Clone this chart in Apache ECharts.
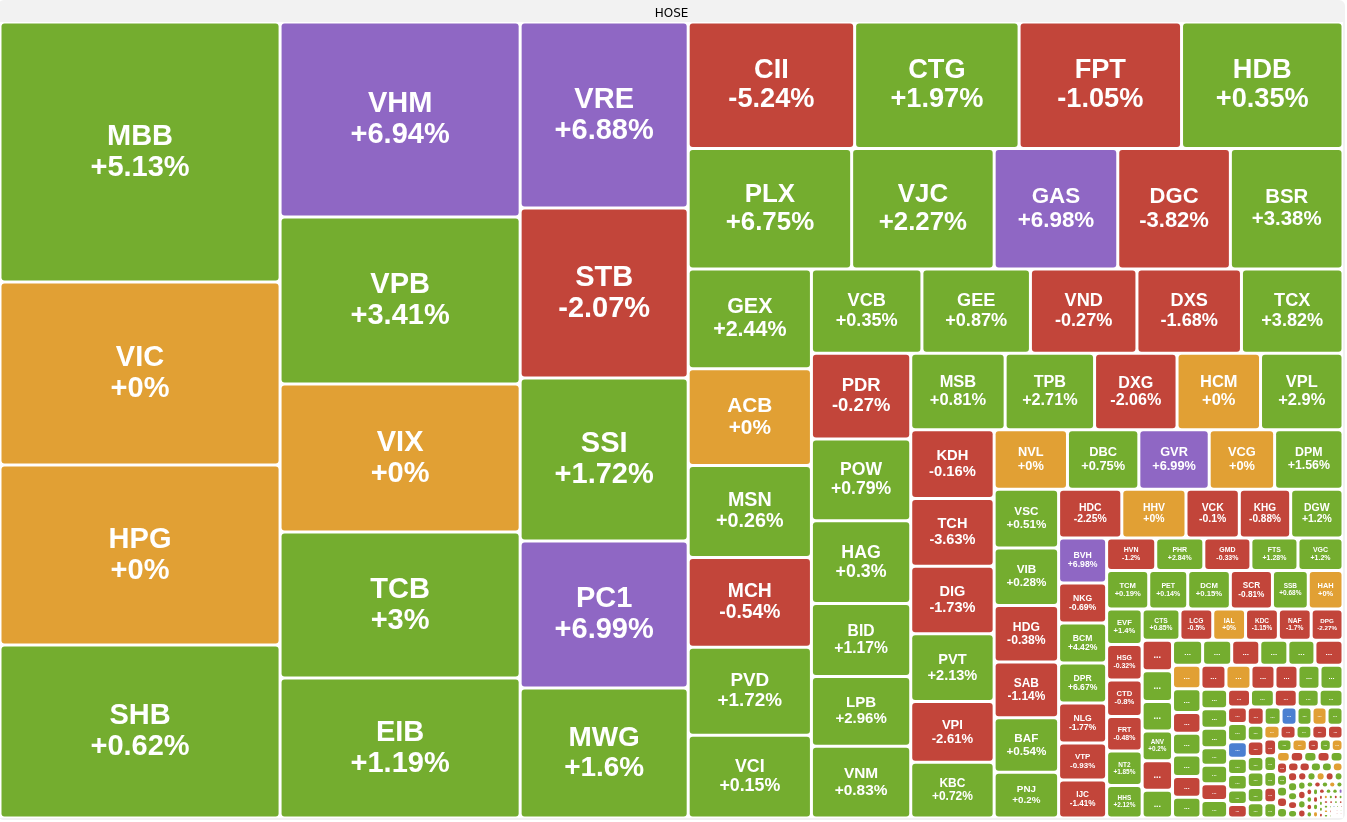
<!DOCTYPE html>
<html lang="en">
<head>
<meta charset="UTF-8" />
<title>HOSE</title>
<style>
  html, body { margin: 0; padding: 0; background: #fff; }
  #main { width: 1347px; height: 822px; }
</style>
</head>
<body>
<div id="main"></div>
<script src="https://cdn.jsdelivr.net/npm/echarts@6/dist/echarts.min.js"></script>
<script>
// readable tickers, in the order they sit on the map: name, size, % change
var names = ['MBB','VIC','HPG','SHB', 'VHM','VPB','VIX','TCB','EIB', 'VRE','STB','SSI','PC1','MWG',
  'CII','CTG','FPT','HDB', 'PLX','VJC','GAS','DGC','BSR', 'GEX','ACB','MSN','MCH','PVD','VCI',
  'VCB','GEE','VND','DXS','TCX', 'PDR','POW','HAG','BID','LPB','VNM', 'MSB','TPB','DXG','HCM','VPL',
  'KDH','TCH','DIG','PVT','VPI','KBC', 'NVL','DBC','GVR','VCG','DPM', 'VSC','VIB','HDG','SAB','BAF','PNJ',
  'HDC','HHV','VCK','KHG','DGW', 'BVH','NKG','BCM','DPR','NLG','VTP','IJC',
  'HVN','PHR','GMD','FTS','VGC', 'TCM','PET','DCM','SCR','SSB','HAH',
  'EVF','HSG','CTD','FRT','NT2','HHS', 'CTS','LCG','IAL','KDC','NAF','DPG'];
var caps = [72800,51240,50400,48440, 46800,40080,35520,35040,33600, 31248,28560,27384,24696,21840,
  21042,20790,20538,20412, 19680,17160,14880,13560,13560, 12300,11931,11316,11070,10824,10209,
  9324,9156,8988,8820,8568, 8514,8118,8217,7227,6930,7128, 7220,6840,6308,6384,6308,
  5727,5644,5644,5644,5063,4648, 4366,4248,4189,3894,4071, 3776,3712,3648,3584,3520,2944,
  3072,3120,2592,2496,2544, 2160,1920,1920,1920,1920,1776,1824,
  1594,1561,1528,1528,1462, 1626,1505,1645,1626,1383,1341,
  1260,1260,1295,1225,1225,1155, 1178,1023,1023,1023,1023,992];
var changes = [5.13,0,0,0.62, 6.94,3.41,0,3,1.19, 6.88,-2.07,1.72,6.99,1.6,
  -5.24,1.97,-1.05,0.35, 6.75,2.27,6.98,-3.82,3.38, 2.44,0,0.26,-0.54,1.72,0.15,
  0.35,0.87,-0.27,-1.68,3.82, -0.27,0.79,0.3,1.17,2.96,0.83, 0.81,2.71,-2.06,0,2.9,
  -0.16,-3.63,-1.73,2.13,-2.61,0.72, 0,0.75,6.99,0,1.56, 0.51,0.28,-0.38,-1.14,0.54,0.2,
  -2.25,0,-0.1,-0.88,1.2, 6.98,-0.69,4.42,6.67,-1.77,-0.93,-1.41,
  -1.2,2.84,-0.33,1.28,1.2, 0.19,0.14,0.15,-0.81,0.68,0,
  1.4,-0.32,-0.8,-0.48,1.85,2.12, 0.85,-0.5,0,-1.15,-1.7,-2.27];

// small tickers, mostly too small for a label
var tinyNames = ['AAA','PAN','BMP','ANV','HT1','REE',
  'DHC','VHC','SZC','CSV','TLG','KSB',
  'SCS','PTB','ELC','TDM','HAX','DHA','CMG',
  'FCN','VSH','DHG','TNH','SBT','DRC',
  'CTR','TCL','NAB','VPG','HSL','TTA','LHG',
  'SKG','CRE','DXV','ITC','TIP',
  'LDG','ASM','HQC','TDC','NHA','DAH','SMC',
  'TDH','AGG','HAR','DLG','VOS','PGC',
  'TDP','ST8','LSS','SGR','BCG','VNE',
  'TNI','SRC','PIT','HAP','TNT','FIT',
  'HID','DTL','PXI','ABS','APH','CIG',
  'SFG','TCD','VCA','SMA','BTT','NVT','TGG','VPS','CCI','GIL',
  'HVX','LEC','TMT','SVD','PTC','BRC','CLW','TLD','DTT','HRC',
  'SAV','EMC','NNC','RDP','TDW','VID','SII','CLL','TCO','PGI','HTL','ACL',
  'CMV','FDC','SVT','DTA','NO1','VMD','TTE','LM8','SJD','PMG','BSI','TMS','CKG','UIC','HTN','GTA',
  'YBM','TPC','VNL','SVI','DQC','TYA','PDN','HU1','MDG','SGT','VTO','L10','CAV','TIX','SFC','PJT',
  'ADG','AST','BIC','C32','DC4','FIR','HAS','KPF','MCP','NCT','PLP','SBV','TTF','VAF'];
var tinyCaps = [930,930,900,900,900,840,
  750,725,700,700,675,700,
  672,672,588,616,616,588,588,
  600,600,576,552,528,552,
  520,520,520,468,494,442,468,
  408,425,408,391,425,
  323,361,323,323,304,285,266,
  306,306,289,272,272,289,
  262,260,258,256,254,252,
  225,222,220,218,215,212,
  200,198,196,194,192,190,
  150,148,146,144,142,140,138,136,134,132,
  118,116,114,112,110,108,106,104,102,100,
  90,88,86,85,84,83,82,81,80,79,78,77,
  55,54,53,52,51,50,49,48,47,46,45,44,43,42,41,40,
  30,29,29,28,28,27,27,26,26,25,25,24,24,23,23,22,
  16,16,15,15,15,14,14,14,13,13,13,12,12,12];
var tinyChanges = [-1.36,1.52,0.83,0.2,-0.94,1.07,
  1.14,0.62,-1.08,2.31,0.45,-0.73,
  0,0.91,-1.24,0.58,1.73,-0.66,0.37,
  -0.84,0,-0.29,-1.47,0.64,0.95,
  1.1,0.42,0.77,2.05,0.3,-0.52,0.88,
  -0.61,1.63,-2.1,0.48,0.92,
  -1.52,0.7,-6.9,0.56,1.21,0.34,-0.87,
  -1.9,0.85,-6.94,0.98,0,0.61,
  0.5,-0.44,1.18,0.76,0.39,2.44,
  0,-0.6,1.33,-1.02,-0.78,-0.35,
  0.64,1.5,-1.61,0.82,0.27,0,
  -0.4,1.9,0,0,-0.55,0.91,-1.3,0.46,-0.7,1.05,
  0.73,-2.15,0.6,-1.8,-0.9,1.44,0.31,0,-0.65,0.87,
  0.52,-1.1,1.66,-0.48,0.29,0,-0.57,0.93,1.24,-0.38,0.44,-1.62,
  0.71,-0.9,1.02,0,0.36,-0.45,1.88,-1.33,0.54,0.25,-0.81,0.66,0,-0.95,1.37,0.48,
  6.9,-1.44,0.5,0.81,-0.73,0,1.12,-0.62,0.94,-1.7,0.33,0,0.58,-0.27,1.19,-0.42,
  0.6,-1.05,0.44,-6.96,0.71,-0.5,0,1.3,-0.8,0.25,-1.2,0.56,-0.9,0.4];

// ceiling (purple) and floor (blue) tickers
var ceilingList = ['VHM','VRE','PC1','GAS','GVR','BVH','YBM'];
var floorList = ['HQC','HAR','C32'];

// how many tickers share each strip of the spiral (columns and rows)
var stripSizes = [4,5,5,4,5,6,5,6,5,6,5,6,5,7,5,6,6,6, 6,6,7,6,7,5,7,6];

var FONT = '"Liberation Sans", Arial, Helvetica, sans-serif';
var chart = echarts.init(document.getElementById('main'));
var ctx = document.createElement('canvas').getContext('2d');

function pct(c) {
  return (c < 0 ? '' : '+') + c + '%';
}
function textW(s, size) {
  ctx.font = 'bold ' + size + 'px ' + FONT;
  return ctx.measureText(s).width;
}
function colorOf(name, c) {
  if (ceilingList.indexOf(name) >= 0) return '#8f67c4';
  if (floorList.indexOf(name) >= 0) return '#4b7fd1';
  if (c > 0) return '#74ad2f';
  if (c < 0) return '#c2453a';
  return '#e1a034';
}

function leaf(name, cap, chg, box) {
  var item = { name: name, value: cap, change: chg, itemStyle: { color: colorOf(name, chg) } };
  if (box && box.width > 0) {
    var w = box.width, h = box.height;
    // widest line in em, then the font that fits the rectangle
    var em = Math.max(textW(name, 100), textW(pct(chg), 100)) / 100;
    var f = Math.min(29, 0.215 * Math.min(w, h), 0.62 * w / em);
    if (f >= 6) {
      item.label = { fontSize: f, lineHeight: Math.round(f * 1.08) };
    } else {
      var d = Math.max(4.5, Math.min(0.215 * Math.min(w, h) * 1.5, 9));
      item.label = { formatter: '...', fontSize: d, lineHeight: d, overflow: 'none' };
    }
  }
  return item;
}

var groupStyle = { borderWidth: 0, gapWidth: 0, borderRadius: 0, color: '#fff', borderColor: '#fff' };

function buildData(boxes) {
  var leaves = [];
  for (var i = 0; i < names.length; i++) {
    leaves.push(leaf(names[i], caps[i], changes[i], boxes[names[i]]));
  }
  for (var j = 0; j < tinyNames.length; j++) {
    leaves.push(leaf(tinyNames[j], tinyCaps[j], tinyChanges[j], boxes[tinyNames[j]]));
  }
  // each strip is laid beside "the rest", which nests the next strip, and so on
  var strips = [], at = 0;
  for (var s = 0; s < stripSizes.length; s++) {
    strips.push({ name: 's' + s, itemStyle: groupStyle, children: leaves.slice(at, at + stripSizes[s]) });
    at += stripSizes[s];
  }
  var node = { name: 'rest', itemStyle: groupStyle, children: leaves.slice(at) };
  for (var k = strips.length - 1; k >= 1; k--) {
    node = { name: 'g' + k, itemStyle: groupStyle, children: [strips[k], node] };
  }
  return [{ name: 'HOSE', children: [strips[0], node] }];
}

function makeOption(data) {
  return {
    animation: false,
    series: [{
      type: 'treemap',
      left: -2, top: 0, width: 1347, height: 820,
      roam: false,
      nodeClick: false,
      sort: false,
      squareRatio: 0.9,
      breadcrumb: { show: false },
      itemStyle: { borderColor: '#fff', borderWidth: 1.5, borderRadius: 3, gapWidth: 0 },
      label: {
        show: true,
        position: 'inside',
        padding: 2,
        color: '#fff',
        fontWeight: 'bold',
        fontFamily: FONT,
        formatter: function (p) {
          return p.name + '\n' + pct(p.data.change);
        }
      },
      upperLabel: { show: false },
      emphasis: { disabled: true },
      levels: [
        { itemStyle: { borderWidth: 0, gapWidth: 0, borderRadius: 0, color: '#fff', borderColor: '#fff' } },
        {
          itemStyle: { color: '#f2f2f2', borderColor: '#f2f2f2', borderWidth: 2, gapWidth: 0, borderRadius: 6 },
          upperLabel: {
            show: true, height: 22, position: ['50%', 13.5], align: 'center', verticalAlign: 'middle',
            color: '#000', fontSize: 12, fontWeight: 'normal', fontFamily: '"DejaVu Sans", sans-serif',
            formatter: '{b}'
          }
        }
      ],
      data: data
    }]
  };
}

function readBoxes() {
  var boxes = {};
  try {
    var tree = chart.getModel().getSeriesByIndex(0).getData().tree;
    tree.root.eachNode(function (n) {
      var l = n.getLayout();
      if (l && (!n.children || !n.children.length)) {
        boxes[n.name] = { width: l.width, height: l.height };
      }
    });
  } catch (e) {}
  return boxes;
}

chart.setOption(makeOption(buildData({})));
// size every label from the rectangle the layout gave it (repeat until settled)
for (var pass = 0; pass < 3; pass++) {
  chart.setOption(makeOption(buildData(readBoxes())), true);
}
</script>
</body>
</html>
